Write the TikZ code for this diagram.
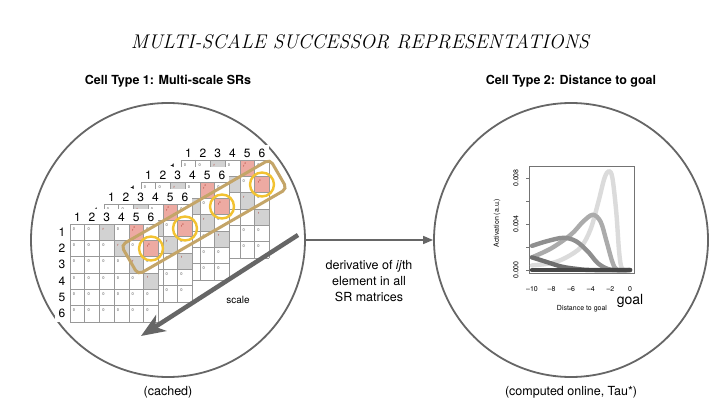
\documentclass[tikz,border=0pt]{standalone}
\usepackage{fontspec}
\setsansfont{TeX Gyre Heros}
\usetikzlibrary{arrows.meta,positioning}

\definecolor{rimgray}{HTML}{666666}
\definecolor{cellgray}{HTML}{D2D2D2}
\definecolor{cellred}{HTML}{EDAAA2}
\definecolor{rtext}{HTML}{B03A30}
\definecolor{bandtan}{HTML}{C4A568}
\definecolor{ringgold}{HTML}{F2C232}

\newcommand{\cw}{14.7}
\newcommand{\ch}{16.3}

\tikzset{
  lab/.style={font=\sffamily\fontsize{12.5}{16}\selectfont, inner sep=0pt, align=center},
  head/.style={font=\sffamily\bfseries\fontsize{12.5}{15}\selectfont, inner sep=0pt},
  ring/.style={circle, draw=rimgray, line width=1.8pt, minimum size=274pt, inner sep=0pt},
  pick/.style={circle, draw=ringgold, line width=2.4pt, minimum size=24pt, inner sep=0pt},
  cell/.style={font=\sffamily\fontsize{4}{4}\selectfont, inner sep=0pt, text=black!70},
  idx/.style={font=\sffamily\fontsize{12}{12}\selectfont, inner sep=0pt},
  gridline/.style={draw=black!40, line width=0.5pt},
  tick/.style={font=\sffamily\fontsize{7}{7}\selectfont, inner sep=0pt},
  curve/.style={line width=4.4pt, line cap=round, line join=round},
  flow/.style={draw=rimgray, line width=1.6pt, -{Triangle[length=10pt,width=8pt]}},
}

% one SR matrix, #1,#2 = top left corner of its grid
\newcommand{\srmat}[2]{%
  \begin{scope}[shift={(#1,#2)}]
    \fill[white] (-15,-15) rectangle ({6*\cw},{6*\ch});
    \foreach \i in {1,...,6}
      \foreach \j in {1,...,6} {
        \pgfmathtruncatemacro\off{\j-\i}
        \ifnum\off=2
          \fill[cellgray] ({(\j-1)*\cw},{(\i-1)*\ch}) rectangle ++(\cw,\ch);
          \node[cell, text=rtext] at ({(\j-1)*\cw+4},{(\i-1)*\ch+5}) {r};
        \else\ifnum\off=4
          \fill[cellred] ({(\j-1)*\cw},{(\i-1)*\ch}) rectangle ++(\cw,\ch);
          \node[cell, text=rtext] at ({(\j-1)*\cw+5},{(\i-1)*\ch+5}) {r\textsuperscript{4}};
        \else
          \node[cell] at ({(\j-1)*\cw+4},{(\i-1)*\ch+5}) {0};
        \fi\fi
      }
    \foreach \k in {0,...,6} {
      \draw[gridline] ({\k*\cw},0) -- ({\k*\cw},{6*\ch});
      \draw[gridline] (0,{\k*\ch}) -- ({6*\cw},{\k*\ch});
    }
    \foreach \k in {1,...,6} {
      \node[idx] at ({(\k-0.5)*\cw},-7) {\k};
      \node[idx] at (-8,{(\k-0.5)*\ch}) {\k};
    }
  \end{scope}}

\begin{document}
\begin{tikzpicture}[x=1pt, y=-1pt]
\useasboundingbox (0,0) rectangle (719,406);
\fill[white] (0,0) rectangle (719,406);

\node[font=\itshape\fontsize{19.8}{20}\selectfont] (title) at (360,42) {MULTI-SCALE SUCCESSOR REPRESENTATIONS};

\node[ring] (srs) at (168,240) {};
\node[ring] (dist) at (571,240) {};
\node[head, above=15pt of srs] (type1) {Cell Type 1: Multi-scale SRs};
\node[head, above=15pt of dist] (type2) {Cell Type 2: Distance to goal};
\node[lab, below=8pt of srs] (cached) {(cached)};
\node[lab, below=8pt of dist] (online) {(computed online, Tau*)};

% matrices, back to front
\srmat{181}{160}
\srmat{141}{182}
\srmat{104}{204}
\srmat{70}{224}

\node[draw=bandtan, line width=3pt, rounded corners=5pt, minimum width=172pt, minimum height=34pt, rotate=30] (band) at (204,217) {};
\node[pick] (ij1) at (151,248.5) {};
\node[pick] (ij2) at (185,228.5) {};
\node[pick] (ij3) at (222,206.5) {};
\node[pick] (ij4) at (262,184.5) {};

\coordinate (scaletop) at (298,235);
\coordinate (scalebot) at (141,336);
\draw[draw=black!60, line width=4.5pt, -{Stealth[length=24pt,width=19pt,inset=7pt]}] (scaletop) -- (scalebot);
\node[lab, font=\sffamily\fontsize{10}{10}\selectfont] (scale) at (238,300) {scale};

\draw[flow] (srs) -- (dist);
\node[lab] (deriv) at (369,281) {derivative of \textit{ij}th\\element in all\\SR matrices};

% distance to goal plot
\draw[black!55, line width=0.6pt] (529,166) rectangle (634,273);
\foreach \y in {178,201,224,247,270}
  \draw[black!55, line width=0.6pt] (529,\y) -- (525.5,\y);
\foreach \v/\y in {0.000/270, 0.004/224, 0.008/178}
  \node[tick, rotate=90] at (516,\y) {\v};
\foreach \v [count=\k from 0] in {--10,--8,--6,--4,--2,0}
  \node[tick] at ({532+19.6*\k},289) {\v};
\node[tick, rotate=90] (ylab) at (497,223) {Activation (a.u.)};
\node[tick] (xlab) at (582,309) {Distance to goal};
\node[font=\sffamily\fontsize{14}{14}\selectfont, inner sep=0pt] (goal) at (630,301) {goal};

\draw[curve, black!14] plot[smooth, tension=0.55] coordinates {(532,265.4) (551.6,263.1) (566.3,257.4) (581,247) (590.8,228.6) (598.6,201) (604.5,178) (608.9,171.1) (612.4,178) (616.3,212.5) (619.2,252.75) (622.2,268.9) (630,270)};
\draw[curve, black!33] plot[smooth, tension=0.55] coordinates {(532,257.35) (551.6,248.15) (571.2,234.35) (583,221.7) (592.8,214.8) (600.6,221.7) (606.5,241.25) (612.4,262) (617.3,270) (630,270)};
\draw[curve, black!44] plot[smooth, tension=0.55] coordinates {(532,245.85) (546.7,241.25) (563.4,237.8) (576.1,241.25) (587.9,251.6) (597.7,263.1) (607.5,268.85) (615.3,270) (630,270)};
\draw[curve, black!57] plot[smooth, tension=0.55] coordinates {(532,257.35) (546.7,262) (561.4,266.55) (576.1,268.85) (590.8,270) (630,270)};
\draw[curve, black!72] (532,270) -- (630,270);

\end{tikzpicture}
\end{document}
